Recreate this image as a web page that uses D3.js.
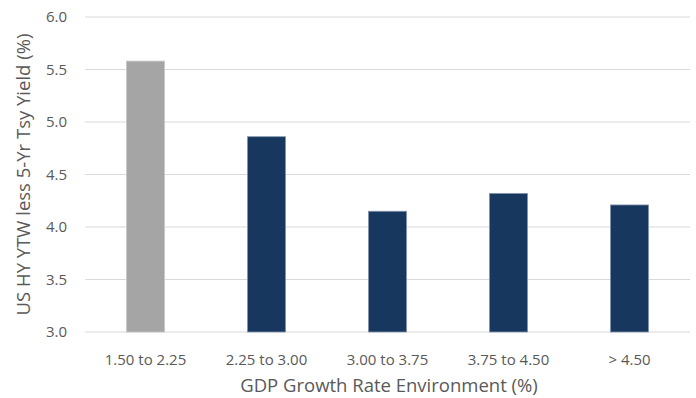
<!DOCTYPE html>
<html>
<head>
<meta charset="utf-8">
<script src="https://cdn.jsdelivr.net/npm/d3@7"></script>
<style>
  html, body { margin: 0; padding: 0; background: #ffffff; }
  svg { display: block; font-family: "Open Sans", "Liberation Sans", sans-serif; }
</style>
</head>
<body>
<svg id="chart" width="696" height="398"></svg>
<script>
// Spread over 5-yr Treasuries by GDP growth regime
const categories = ["1.50 to 2.25", "2.25 to 3.00", "3.00 to 3.75", "3.75 to 4.50", "> 4.50"];
const spreads = [5.58, 4.86, 4.15, 4.32, 4.21];
const barColors = ["#a5a5a5", "#17375e", "#17375e", "#17375e", "#17375e"];
const yTicks = [3.0, 3.5, 4.0, 4.5, 5.0, 5.5, 6.0];
const yDomain = [3.0, 6.0];

const svg = d3.select("#chart");
const plot = { left: 85, right: 690, top: 17, bottom: 332 };
const textColor = "#595959";

const x = d3.scaleBand()
  .domain(categories)
  .range([plot.left, plot.right])
  .paddingInner(0.685)
  .paddingOuter(0.3425);

const y = d3.scaleLinear().domain(yDomain).range([plot.bottom, plot.top]);

// gridlines
svg.append("g")
  .selectAll("line")
  .data(yTicks)
  .join("line")
  .attr("x1", plot.left).attr("x2", plot.right)
  .attr("y1", d => y(d)).attr("y2", d => y(d))
  .attr("stroke", "#d9d9d9")
  .attr("stroke-width", 1.2);

// y axis labels
const yAxis = d3.axisLeft(y).tickValues(yTicks).tickFormat(d3.format(".1f")).tickSize(0).tickPadding(18);
const gy = svg.append("g").attr("transform", `translate(${plot.left},0)`).call(yAxis);
gy.select(".domain").remove();
gy.selectAll("text").attr("fill", textColor).style("font-size", "15px").style("font-family", "'Open Sans', sans-serif");

// bars
svg.append("g")
  .selectAll("rect")
  .data(spreads)
  .join("rect")
  .attr("x", (d, i) => x(categories[i]))
  .attr("width", x.bandwidth())
  .attr("y", d => y(d))
  .attr("height", d => y(yDomain[0]) - y(d))
  .attr("fill", (d, i) => barColors[i])
  .attr("stroke", (d, i) => i === 0 ? "#c8c8c8" : "#8496b0")
  .attr("stroke-width", 0.8);

// x axis labels
const xAxis = d3.axisBottom(x).tickSize(0).tickPadding(22);
const gx = svg.append("g").attr("transform", `translate(0,${plot.bottom})`).call(xAxis);
gx.select(".domain").remove();
gx.selectAll("text").attr("fill", textColor).style("font-size", "15px").style("font-family", "'Open Sans', sans-serif");

// axis titles
svg.append("text")
  .attr("x", 389)
  .attr("y", 392)
  .attr("text-anchor", "middle")
  .attr("fill", textColor)
  .style("font-size", "18.5px")
  .text("GDP Growth Rate Environment (%)");

svg.append("text")
  .attr("transform", `translate(30,${(plot.top + plot.bottom) / 2}) rotate(-90)`)
  .attr("text-anchor", "middle")
  .attr("fill", textColor)
  .style("font-size", "18.5px")
  .text("US HY YTW less 5-Yr Tsy Yield (%)");
</script>
</body>
</html>
